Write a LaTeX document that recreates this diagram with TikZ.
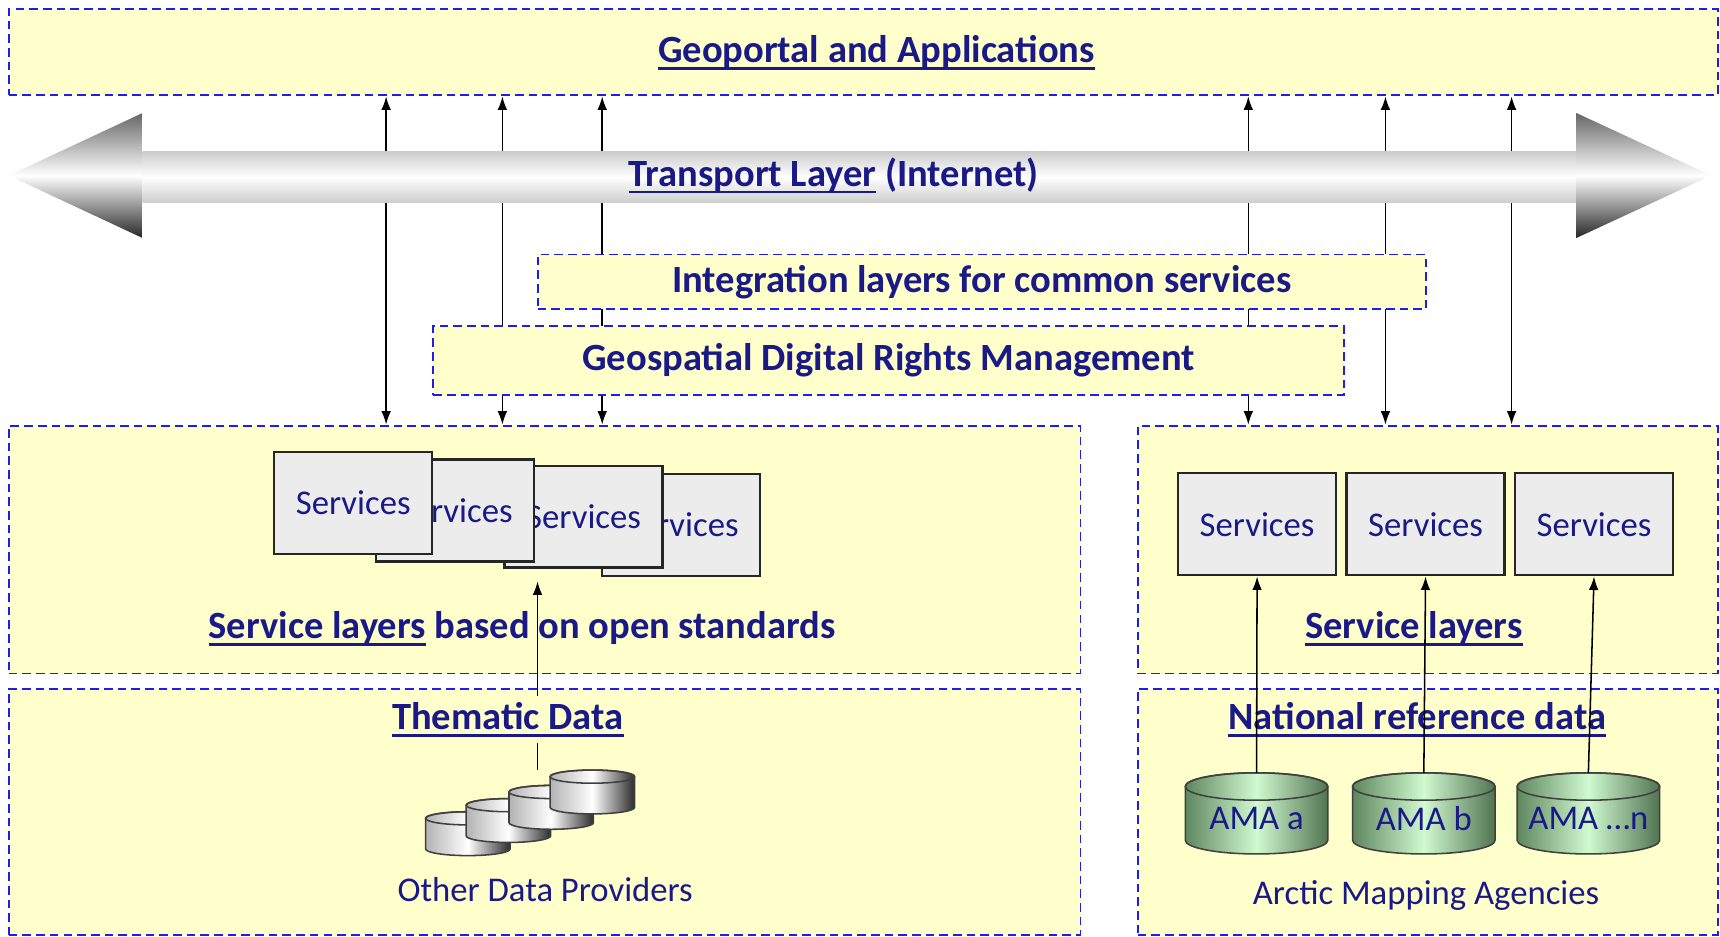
\documentclass[tikz,border=0pt]{standalone}
\usepackage{fontspec}
\setmainfont{Carlito}
\usetikzlibrary{positioning,fit,calc,arrows.meta}

\definecolor{layerfill}{RGB}{255,255,204}
\definecolor{layerline}{RGB}{30,30,235}
\definecolor{txtblue}{RGB}{25,25,135}
\definecolor{amadark}{RGB}{95,135,95}
\definecolor{amalight}{RGB}{208,250,208}
\newcommand{\ulink}[1]{\setbox0\hbox{#1}\rlap{\vrule height -2.2pt depth 3.6pt width \wd0}\box0\relax}
% #1 name, #2 top centre, #3 half width, #4 rim, #5 body, #6 shading, #7 text
\newcommand{\drum}[7]{%
    \coordinate (#1c) at #2;
    \shade[draw=black!75, line width=0.8pt, #6] ($(#1c)+(-#3,0)$) -- ++(0,-#5)
        arc[start angle=180, end angle=360, x radius=#3, y radius=#4] -- ++(0,#5)
        arc[start angle=0, end angle=180, x radius=#3, y radius=#4] -- cycle;
    \draw[black!75, line width=0.8pt] (#1c) ellipse[x radius=#3, y radius=#4];
    \coordinate (#1) at ($(#1c)+(0,#4)$);
    \node[note] (#1txt) at ($(#1c)+(0,-0.6*#5)$) {#7};
}

\tikzset{
    layer/.style={draw=layerline, fill=layerfill, line width=1pt, dash pattern=on 4.5pt off 2.6pt, inner sep=0pt},
    heading/.style={text=txtblue, font=\fontsize{20}{24}\selectfont\bfseries},
    note/.style={text=txtblue, font=\fontsize{18}{22}\selectfont},
    servbox/.style={draw=black!85, line width=1.2pt, fill=gray!15, minimum width=2.88cm, minimum height=1.86cm, note},
    greyshade/.style={left color=gray!60, right color=gray!35!black, middle color=white},
    amashade/.style={left color=amadark, right color=amadark!85!black, middle color=amalight},
    link/.style={{Latex[length=7pt,width=5pt]}-{Latex[length=7pt,width=5pt]}, line width=0.8pt},
    feed/.style={-{Latex[length=7pt,width=5pt]}, line width=0.8pt},
}

\begin{document}
\begin{tikzpicture}[x=0.02cm, y=-0.02cm]
    \useasboundingbox (0,0) rectangle (1568,854);

    \node[layer, fit={(8,8) (1566,87)}] (portal) {};
    \node[heading] (portaltxt) at (799,48) {\ulink{Geoportal and Applications}};
    \node[layer, fit={(8,388) (985,614)}] (svcL) {};
    \node[layer, fit={(1037,388) (1566,614)}] (svcR) {};
    \node[layer, fit={(8,628) (985,852)}] (dataL) {};
    \node[layer, fit={(1037,628) (1566,852)}] (dataR) {};

    \foreach \px [count=\i] in {352,458,549} {
        \coordinate (l\i) at (\px,0);
        \draw[link] (portal.south -| l\i) -- (svcL.north -| l\i);
    }
    \foreach \px [count=\i] in {1138,1263,1378} {
        \coordinate (r\i) at (\px,0);
        \draw[link] (portal.south -| r\i) -- (svcR.north -| r\i);
    }

    \shade[top color=gray!40, bottom color=gray!40, middle color=white] (130,138) rectangle (1437,185);
    \shade[top color=black!60, bottom color=black!85, middle color=white] (130,103) -- (8,160) -- (130,217) -- cycle;
    \shade[top color=black!60, bottom color=black!85, middle color=white] (1437,103) -- (1560,160) -- (1437,217) -- cycle;
    \node[heading] (transport) at (760,160) {\ulink{Transport Layer} (Internet)};

    \node[layer, heading, minimum width=16.2cm, minimum height=1cm] (integ) at (895,257) {Integration layers for common services};
    \node[layer, heading, minimum width=16.6cm, minimum height=1.26cm] (gdrm) at (810,328.5) {Geospatial Digital Rights Management};

    \node[servbox] (stackD) at (621,478.5) {Services};
    \node[servbox] (stackC) at (532,471) {Services};
    \node[servbox] (stackB) at (415,465.5) {Services};
    \node[servbox] (stackA) at (322,458.5) {Services};

    \node[heading] (openstd) at (476,573) {\ulink{Service layers} based on open standards};
    \node[heading] (thematic) at (463,656) {\ulink{Thematic Data}};
    \drum{db1}{(426.5,746)}{0.77cm}{0.12cm}{0.56cm}{greyshade}{}
    \drum{db2}{(463.5,734)}{0.77cm}{0.12cm}{0.56cm}{greyshade}{}
    \drum{db3}{(502.5,722)}{0.77cm}{0.12cm}{0.56cm}{greyshade}{}
    \drum{db4}{(540,708)}{0.77cm}{0.12cm}{0.56cm}{greyshade}{}
    \node[note] (others) at (497,811) {Other Data Providers};
    \coordinate (stacktip) at (490,530);
    \draw[feed] (thematic.north -| stacktip) -- (stacktip);
    \draw[line width=0.8pt] (thematic.south -| stacktip) -- (db4 -| stacktip);

    \node[servbox] (srvA) at (1146,478) {Services};
    \node[servbox, right=0.15cm of srvA] (srvB) {Services};
    \node[servbox, right=0.15cm of srvB] (srvC) {Services};
    \node[heading] (svclayers) at (1289,573) {\ulink{Service layers}};
    \node[heading] (national) at (1292,656) {\ulink{National reference data}};
    \drum{amaA}{(1145.5,717)}{1.3cm}{0.25cm}{0.98cm}{amashade}{AMA a}
    \drum{amaB}{(1298,717)}{1.3cm}{0.25cm}{0.98cm}{amashade}{AMA b}
    \drum{amaN}{(1448,717)}{1.3cm}{0.25cm}{0.98cm}{amashade}{AMA …n}
    \node[note] (arctic) at (1300,816) {Arctic Mapping Agencies};
    \draw[feed] (amaA) -- (srvA.south);
    \draw[feed] (amaB) -- (srvB.south);
    \draw[feed] (amaN) -- (srvC.south);
\end{tikzpicture}
\end{document}
